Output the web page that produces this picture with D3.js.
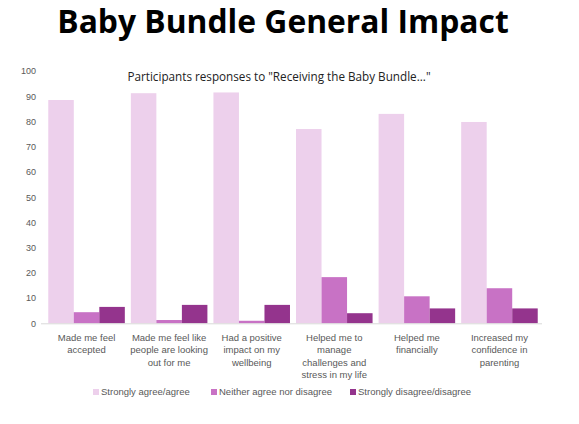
<!DOCTYPE html>
<html>
<head>
<meta charset="utf-8">
<script src="https://cdn.jsdelivr.net/npm/d3@7"></script>
<style>
  body { margin: 0; background: #fff; }
  svg text { font-family: "Liberation Sans", Arial, sans-serif; }
</style>
</head>
<body>
<div id="chart"></div>
<script>
// data
var categories = [
    ["Made me feel", "accepted"],
    ["Made me feel like", "people are looking", "out for me"],
    ["Had a positive", "impact on my", "wellbeing"],
    ["Helped me to", "manage", "challenges and", "stress in my life"],
    ["Helped me", "financially"],
    ["Increased my", "confidence in", "parenting"]
];
var seriesNames = ["Strongly agree/agree", "Neither agree nor disagree", "Strongly disagree/disagree"];
var agree    = [88.5, 91.2, 91.5, 77.0, 83.0, 79.8];
var neither  = [4.4, 1.3, 1.0, 18.3, 10.7, 13.9];
var disagree = [6.5, 7.3, 7.3, 4.0, 5.9, 5.9];
var yTicks = [0, 10, 20, 30, 40, 50, 60, 70, 80, 90, 100];
var colors = ["#EDD0EC", "#C872C5", "#94348D"];

var W = 579, H = 424;
var svg = d3.select("#chart").append("svg")
    .attr("width", W).attr("height", H);

// title + subtitle
svg.append("text")
    .attr("x", 283).attr("y", 33)
    .attr("text-anchor", "middle")
    .style("font-family", "'Open Sans', sans-serif")
    .style("font-weight", "700")
    .style("font-size", "31.8px")
    .attr("fill", "#000")
    .text("Baby Bundle General Impact");

svg.append("text")
    .attr("x", 279).attr("y", 81)
    .attr("text-anchor", "middle")
    .style("font-family", "'Open Sans', sans-serif")
    .style("font-size", "11.7px")
    .attr("fill", "#222")
    .text("Participants responses to \"Receiving the Baby Bundle...\"");

var plot = { left: 41, right: 542, top: 71, bottom: 323.3 };

var x0 = d3.scaleBand()
    .domain(d3.range(categories.length))
    .range([45.3, 540.7])
    .paddingInner(0.073)
    .paddingOuter(0.036);

var x1 = d3.scaleBand()
    .domain(d3.range(3))
    .range([0, x0.bandwidth()]);

var y = d3.scaleLinear()
    .domain([0, 100])
    .range([plot.bottom, plot.top]);

var series = [agree, neither, disagree];

// bars
var groups = svg.append("g").selectAll("g")
    .data(categories)
    .join("g")
    .attr("transform", function(d, i) { return "translate(" + x0(i) + ",0)"; });

groups.selectAll("rect")
    .data(function(d, i) { return series.map(function(s, k) { return { k: k, v: s[i] }; }); })
    .join("rect")
    .attr("x", function(d) { return x1(d.k); })
    .attr("width", x1.bandwidth())
    .attr("y", function(d) { return y(d.v); })
    .attr("height", function(d) { return y(0) - y(d.v); })
    .attr("fill", function(d) { return colors[d.k]; });

// y axis labels (no axis line)
var yAxis = svg.append("g")
    .attr("transform", "translate(40,0)")
    .call(d3.axisLeft(y).tickValues(yTicks).tickSize(0).tickPadding(4));
yAxis.select(".domain").remove();
yAxis.selectAll("text")
    .style("font-family", "'Liberation Sans', Arial, sans-serif")
    .style("font-size", "9px")
    .attr("fill", "#595959");

// baseline
svg.append("line")
    .attr("x1", plot.left).attr("x2", plot.right)
    .attr("y1", y(0) + 0.5).attr("y2", y(0) + 0.5)
    .attr("stroke", "#D9D9D9").attr("stroke-width", 1);

// category labels
var lab = svg.append("g").selectAll("text")
    .data(categories)
    .join("text")
    .attr("x", function(d, i) { return x0(i) + x0.bandwidth() / 2; })
    .attr("y", 341)
    .attr("text-anchor", "middle")
    .style("font-size", "9.5px")
    .attr("fill", "#595959");
lab.selectAll("tspan")
    .data(function(d) { return d; })
    .join("tspan")
    .attr("x", function() { return d3.select(this.parentNode).attr("x"); })
    .attr("dy", function(d, j) { return j === 0 ? 0 : 12.3; })
    .text(function(d) { return d; });

// legend
var legendX = [93, 211, 350];
var leg = svg.append("g").selectAll("g")
    .data(seriesNames)
    .join("g")
    .attr("transform", function(d, i) { return "translate(" + legendX[i] + ",392)"; });
leg.append("rect")
    .attr("x", 0).attr("y", -3)
    .attr("width", 6).attr("height", 6)
    .attr("fill", function(d, i) { return colors[i]; });
leg.append("text")
    .attr("x", 8).attr("y", 3.2)
    .style("font-size", "9.5px")
    .attr("fill", "#595959")
    .text(function(d) { return d; });
</script>
</body>
</html>
